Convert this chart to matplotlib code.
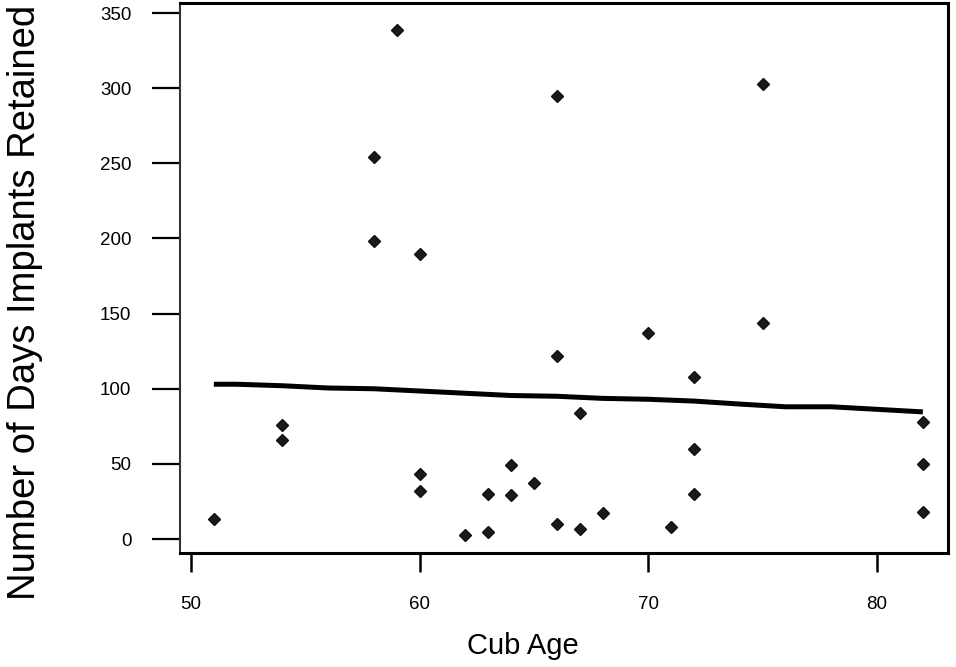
import numpy as np
import matplotlib
matplotlib.use('Agg')
import matplotlib.pyplot as plt

plt.rcParams['font.family'] = ['Liberation Sans', 'DejaVu Sans']

# cub age vs days implants retained
cub_age = [51, 54, 54, 58, 58, 59, 60, 60, 60, 62, 63, 63, 64, 64, 65, 66, 66, 66,
           67, 67, 68, 70, 71, 72, 72, 72, 75, 75, 82, 82, 82]
days_retained = [13, 76, 66, 254, 198, 339, 190, 43, 32, 3, 30, 5, 49, 29, 37, 295, 122, 10,
                 7, 84, 17, 137, 8, 108, 60, 30, 303, 144, 78, 50, 18]

# smoothed trend line
trend_x = [51, 52, 54, 56, 58, 60, 62, 64, 66, 68, 70, 72, 74, 76, 78, 80, 82]
trend_y = [103, 103, 102, 100.5, 100, 98.5, 97, 95.5, 95, 93.6, 93, 91.8, 89.8, 88, 88, 86.3, 84.6]

x_ticks = [50, 60, 70, 80]
y_ticks = [0, 50, 100, 150, 200, 250, 300, 350]

fig = plt.figure(figsize=(9.56, 6.67), dpi=100)
ax = fig.add_axes([180/956, 1 - 553/667, 768/956, 550/667])

ax.plot(trend_x, trend_y, color='black', lw=3.6, solid_capstyle='butt', zorder=2)
ax.plot(cub_age, days_retained, ls='none', marker='D', ms=6, color='#1a1a1a',
        mec='#111111', zorder=3)

ax.set_xlim(49.52, 83.1)
ax.set_ylim(-9.3, 356.7)
ax.set_xticks(x_ticks)
ax.set_yticks(y_ticks)

for side in ['top', 'right', 'bottom']:
    ax.spines[side].set_linewidth(2.2)
ax.spines['left'].set_linewidth(1.5)
ax.spines['left'].set_color('#333333')

ax.tick_params(axis='y', length=20, width=1.6, pad=15, labelsize=13.5)
ax.tick_params(axis='x', length=14, width=1.8, pad=17, labelsize=13.5)

ax.set_xlabel('Cub Age', fontsize=21)
ax.set_ylabel('Number of Days Implants Retained', fontsize=27.5)
ax.xaxis.set_label_coords(0.447, -0.144)
ax.yaxis.set_label_coords(-0.178, 0.455)

fig.savefig('out.png', dpi=100)
